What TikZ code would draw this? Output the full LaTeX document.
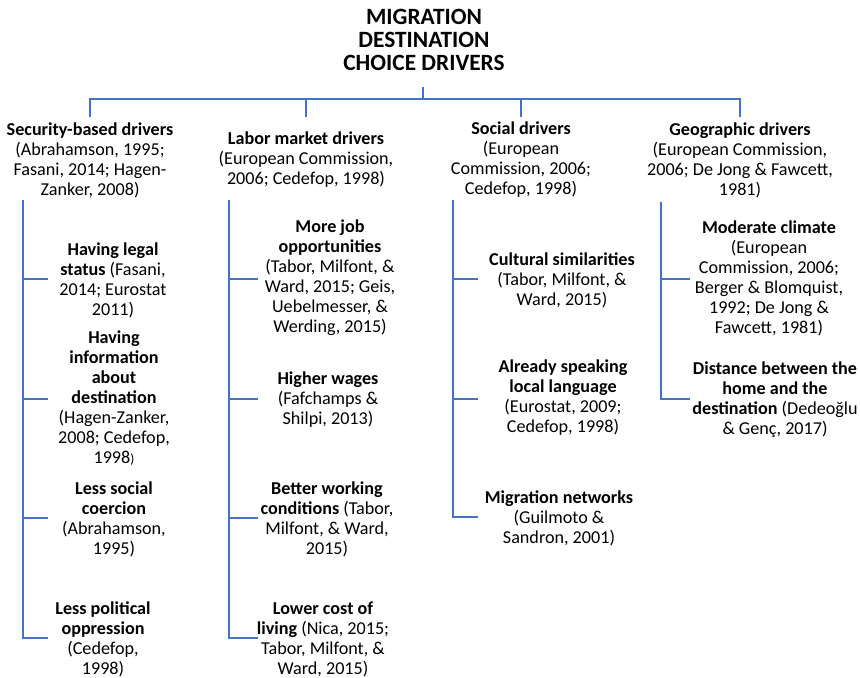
\documentclass[tikz,border=0pt]{standalone}
\usepackage{fontspec}
\setmainfont{Carlito}
\definecolor{lineblue}{HTML}{4472C4}
\begin{document}
\begin{tikzpicture}[x=0.75pt,y=-0.75pt,
  conn/.style={draw=lineblue,line width=1.5pt},
  txt/.style={align=center,inner sep=0pt,font=\fontsize{13.6}{15}\selectfont},
  ttl/.style={align=center,inner sep=0pt,font=\fontsize{17.5}{17}\selectfont\bfseries}]
\useasboundingbox (0,0) rectangle (860,678);

% title and headers
\node[ttl] (title) at (424,40) {MIGRATION\\DESTINATION\\CHOICE DRIVERS};
\node[txt] (hsec) at (90,160) {\textbf{Security-based drivers}\\(Abrahamson, 1995;\\Fasani, 2014; Hagen-\\Zanker, 2008)};
\node[txt] (hlab) at (306,160) {\textbf{Labor market drivers}\\(European Commission,\\2006; Cedefop, 1998)};
\node[txt] (hsoc) at (521,160) {\textbf{Social drivers}\\(European\\Commission, 2006;\\Cedefop, 1998)};
\node[txt] (hgeo) at (740,160) {\textbf{Geographic drivers}\\(European Commission,\\2006; De Jong \& Fawcett,\\1981)};

% security items
\node[txt] (s1) at (113,280) {\textbf{Having legal}\\\textbf{status} (Fasani,\\2014; Eurostat\\2011)};
\node[txt] (s2) at (114,398) {\textbf{Having}\\\textbf{information}\\\textbf{about}\\\textbf{destination}\\(Hagen-Zanker,\\2008; Cedefop,\\1998{\fontsize{10}{10}\selectfont)}};
\node[txt] (s3) at (114,519) {\textbf{Less social}\\\textbf{coercion}\\(Abrahamson,\\1995)};
\node[txt] (s4) at (103,639) {\textbf{Less political}\\\textbf{oppression}\\(Cedefop,\\1998)};

% labor items
\node[txt] (l1) at (330,278) {\textbf{More job}\\\textbf{opportunities}\\(Tabor, Milfont, \&\\Ward, 2015; Geis,\\Uebelmesser, \&\\Werding, 2015)};
\node[txt] (l2) at (328,400) {\textbf{Higher wages}\\(Fafchamps \&\\Shilpi, 2013)};
\node[txt] (l3) at (327,519) {\textbf{Better working}\\\textbf{conditions} (Tabor,\\Milfont, \& Ward,\\2015)};
\node[txt] (l4) at (323,639) {\textbf{Lower cost of}\\\textbf{living} (Nica, 2015;\\Tabor, Milfont, \&\\Ward, 2015)};

% social items
\node[txt] (c1) at (562,280) {\textbf{Cultural similarities}\\(Tabor, Milfont, \&\\Ward, 2015)};
\node[txt] (c2) at (563,398) {\textbf{Already speaking}\\\textbf{local language}\\(Eurostat, 2009;\\Cedefop, 1998)};
\node[txt] (c3) at (559,518) {\textbf{Migration networks}\\(Guilmoto \&\\Sandron, 2001)};

% geographic items
\node[txt] (g1) at (769,278) {\textbf{Moderate climate}\\(European\\Commission, 2006;\\Berger \& Blomquist,\\1992; De Jong \&\\Fawcett, 1981)};
\node[txt] (g2) at (775,400) {\textbf{Distance between the}\\\textbf{home and the}\\\textbf{destination} (Dedeoğlu\\\& Genç, 2017)};

% junction coordinates
\coordinate (htop) at (423,87);
\coordinate (hub) at (423,99);
\coordinate (bl) at (90,99);
\coordinate (br) at (740,99);
\coordinate (bm1) at (306,99);
\coordinate (bm2) at (521,99);
\coordinate (d1) at (90,117);
\coordinate (d2) at (306,117);
\coordinate (d3) at (521,117);
\coordinate (d4) at (740,117);

\coordinate (sp1) at (23,200);
\coordinate (sp1a) at (23,279);  \coordinate (e1a) at (48,279);
\coordinate (sp1b) at (23,399);  \coordinate (e1b) at (48,399);
\coordinate (sp1c) at (23,518);  \coordinate (e1c) at (48,518);
\coordinate (sp1d) at (23,638);  \coordinate (e1d) at (48,638);

\coordinate (sp2) at (229,200);
\coordinate (sp2a) at (229,279); \coordinate (e2a) at (258,279);
\coordinate (sp2b) at (229,399); \coordinate (e2b) at (258,399);
\coordinate (sp2c) at (229,518); \coordinate (e2c) at (258,518);
\coordinate (sp2d) at (229,638); \coordinate (e2d) at (258,638);

\coordinate (sp3) at (453,200);
\coordinate (sp3a) at (453,279); \coordinate (e3a) at (478,279);
\coordinate (sp3b) at (453,399); \coordinate (e3b) at (478,399);
\coordinate (sp3c) at (453,517); \coordinate (e3c) at (478,517);

\coordinate (sp4) at (661,202);
\coordinate (sp4a) at (661,279); \coordinate (e4a) at (690,279);
\coordinate (sp4b) at (661,399); \coordinate (e4b) at (690,399);

% connectors
\draw[conn] (htop) -- (hub);
\draw[conn] (d1) -- (bl) -- (br) -- (d4);
\draw[conn] (bm1) -- (d2);
\draw[conn] (bm2) -- (d3);

\draw[conn] (sp1) -- (sp1d) -- (e1d);
\draw[conn] (sp1a) -- (e1a);
\draw[conn] (sp1b) -- (e1b);
\draw[conn] (sp1c) -- (e1c);

\draw[conn] (sp2) -- (sp2d) -- (e2d);
\draw[conn] (sp2a) -- (e2a);
\draw[conn] (sp2b) -- (e2b);
\draw[conn] (sp2c) -- (e2c);

\draw[conn] (sp3) -- (sp3c) -- (e3c);
\draw[conn] (sp3a) -- (e3a);
\draw[conn] (sp3b) -- (e3b);

\draw[conn] (sp4) -- (sp4b) -- (e4b);
\draw[conn] (sp4a) -- (e4a);
\end{tikzpicture}
\end{document}
